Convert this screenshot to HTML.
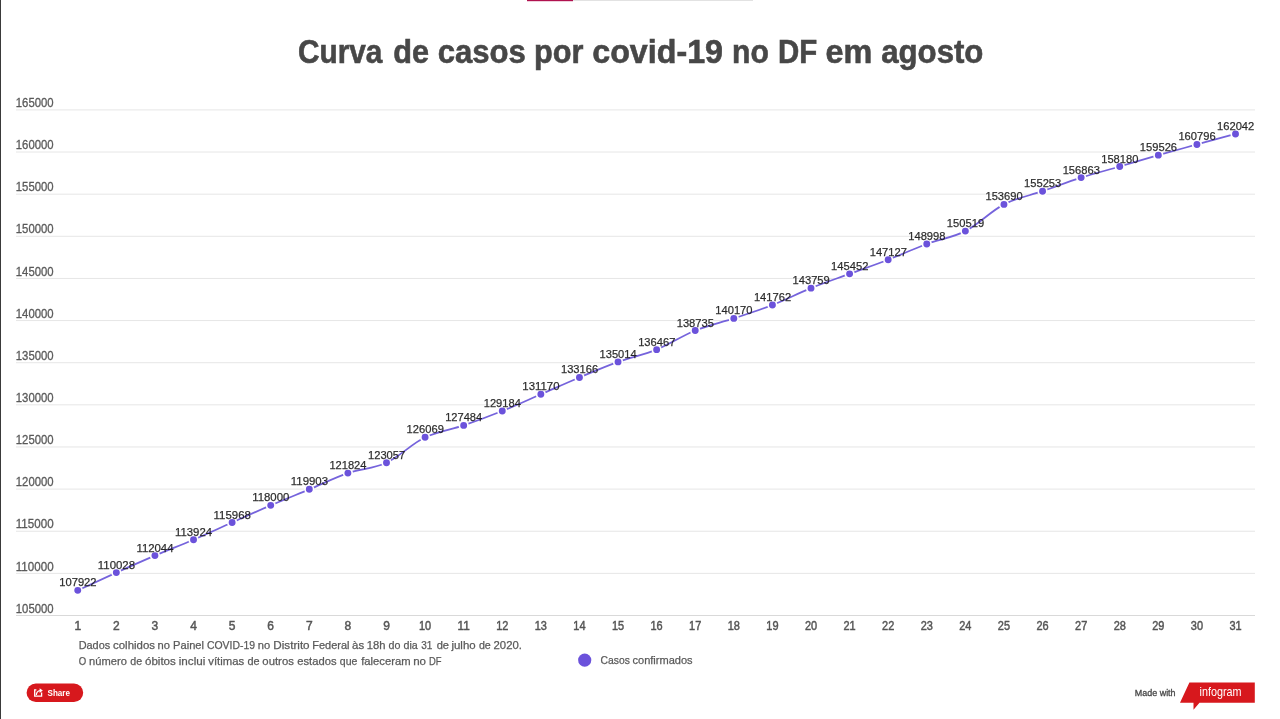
<!DOCTYPE html>
<html><head><meta charset="utf-8"><style>
html,body{margin:0;padding:0;background:#fff;width:1280px;height:719px;overflow:hidden}
svg{display:block;will-change:transform;font-family:"Liberation Sans",sans-serif}
.yl{font-size:12px;fill:#5a5a5a;stroke:#5a5a5a;stroke-width:0.3px}
.xl{font-size:12px;fill:#555;stroke:#555;stroke-width:0.45px}
.dl{font-size:11.7px;fill:#141414;stroke:#141414;stroke-width:0.25px;fill-opacity:0.88;stroke-opacity:0.88}
.ft{font-size:11px;fill:#5a5a5a;stroke:#5a5a5a;stroke-width:0.25px}
</style></head><body>
<svg width="1280" height="719" viewBox="0 0 1280 719">
<rect x="0" y="0" width="1" height="719" fill="#3a3a3a"/>
<rect x="527" y="0" width="46" height="1.2" fill="#b0124f"/>
<rect x="573" y="0" width="180" height="1" fill="#e2e2e2"/>
<g font-size="33" font-weight="bold" fill="#474747" stroke="#474747" stroke-width="0.6"><text x="297.98" y="63.1" textLength="84.43" lengthAdjust="spacingAndGlyphs">Curva</text><text x="393.24" y="63.1" textLength="35.81" lengthAdjust="spacingAndGlyphs">de</text><text x="437.79" y="63.1" textLength="88.09" lengthAdjust="spacingAndGlyphs">casos</text><text x="534.08" y="63.1" textLength="49.38" lengthAdjust="spacingAndGlyphs">por</text><text x="592.24" y="63.1" textLength="130.75" lengthAdjust="spacingAndGlyphs">covid-19</text><text x="732.02" y="63.1" textLength="36.76" lengthAdjust="spacingAndGlyphs">no</text><text x="777.93" y="63.1" textLength="39.25" lengthAdjust="spacingAndGlyphs">DF</text><text x="825.54" y="63.1" textLength="46.77" lengthAdjust="spacingAndGlyphs">em</text><text x="881.19" y="63.1" textLength="102.23" lengthAdjust="spacingAndGlyphs">agosto</text></g>
<rect x="16" y="109.40" width="1239" height="1" fill="#e6e6e6"/>
<text x="15.79" y="107.0" class="yl" textLength="37.81" lengthAdjust="spacingAndGlyphs">165000</text>
<rect x="16" y="151.53" width="1239" height="1" fill="#e6e6e6"/>
<text x="15.79" y="149.1" class="yl" textLength="37.81" lengthAdjust="spacingAndGlyphs">160000</text>
<rect x="16" y="193.67" width="1239" height="1" fill="#e6e6e6"/>
<text x="15.79" y="191.3" class="yl" textLength="37.81" lengthAdjust="spacingAndGlyphs">155000</text>
<rect x="16" y="235.80" width="1239" height="1" fill="#e6e6e6"/>
<text x="15.79" y="233.4" class="yl" textLength="37.81" lengthAdjust="spacingAndGlyphs">150000</text>
<rect x="16" y="277.93" width="1239" height="1" fill="#e6e6e6"/>
<text x="15.79" y="275.5" class="yl" textLength="37.81" lengthAdjust="spacingAndGlyphs">145000</text>
<rect x="16" y="320.07" width="1239" height="1" fill="#e6e6e6"/>
<text x="15.79" y="317.7" class="yl" textLength="37.81" lengthAdjust="spacingAndGlyphs">140000</text>
<rect x="16" y="362.20" width="1239" height="1" fill="#e6e6e6"/>
<text x="15.79" y="359.8" class="yl" textLength="37.81" lengthAdjust="spacingAndGlyphs">135000</text>
<rect x="16" y="404.33" width="1239" height="1" fill="#e6e6e6"/>
<text x="15.79" y="401.9" class="yl" textLength="37.81" lengthAdjust="spacingAndGlyphs">130000</text>
<rect x="16" y="446.46" width="1239" height="1" fill="#e6e6e6"/>
<text x="15.79" y="444.1" class="yl" textLength="37.81" lengthAdjust="spacingAndGlyphs">125000</text>
<rect x="16" y="488.60" width="1239" height="1" fill="#e6e6e6"/>
<text x="15.79" y="486.2" class="yl" textLength="37.81" lengthAdjust="spacingAndGlyphs">120000</text>
<rect x="16" y="530.73" width="1239" height="1" fill="#e6e6e6"/>
<text x="15.79" y="528.3" class="yl" textLength="37.81" lengthAdjust="spacingAndGlyphs">115000</text>
<rect x="16" y="572.86" width="1239" height="1" fill="#e6e6e6"/>
<text x="15.79" y="570.5" class="yl" textLength="37.81" lengthAdjust="spacingAndGlyphs">110000</text>
<rect x="16" y="615.00" width="1239" height="1" fill="#d9d9d9"/>
<text x="15.79" y="612.6" class="yl" textLength="37.81" lengthAdjust="spacingAndGlyphs">105000</text>
<text x="77.75" y="629.9" class="xl" text-anchor="middle">1</text>
<text x="116.34" y="629.9" class="xl" text-anchor="middle">2</text>
<text x="154.93" y="629.9" class="xl" text-anchor="middle">3</text>
<text x="193.53" y="629.9" class="xl" text-anchor="middle">4</text>
<text x="232.12" y="629.9" class="xl" text-anchor="middle">5</text>
<text x="270.71" y="629.9" class="xl" text-anchor="middle">6</text>
<text x="309.30" y="629.9" class="xl" text-anchor="middle">7</text>
<text x="347.89" y="629.9" class="xl" text-anchor="middle">8</text>
<text x="386.49" y="629.9" class="xl" text-anchor="middle">9</text>
<text x="425.08" y="629.9" class="xl" text-anchor="middle" textLength="12.2" lengthAdjust="spacingAndGlyphs">10</text>
<text x="463.67" y="629.9" class="xl" text-anchor="middle" textLength="12.2" lengthAdjust="spacingAndGlyphs">11</text>
<text x="502.26" y="629.9" class="xl" text-anchor="middle" textLength="12.2" lengthAdjust="spacingAndGlyphs">12</text>
<text x="540.85" y="629.9" class="xl" text-anchor="middle" textLength="12.2" lengthAdjust="spacingAndGlyphs">13</text>
<text x="579.45" y="629.9" class="xl" text-anchor="middle" textLength="12.2" lengthAdjust="spacingAndGlyphs">14</text>
<text x="618.04" y="629.9" class="xl" text-anchor="middle" textLength="12.2" lengthAdjust="spacingAndGlyphs">15</text>
<text x="656.63" y="629.9" class="xl" text-anchor="middle" textLength="12.2" lengthAdjust="spacingAndGlyphs">16</text>
<text x="695.22" y="629.9" class="xl" text-anchor="middle" textLength="12.2" lengthAdjust="spacingAndGlyphs">17</text>
<text x="733.81" y="629.9" class="xl" text-anchor="middle" textLength="12.2" lengthAdjust="spacingAndGlyphs">18</text>
<text x="772.41" y="629.9" class="xl" text-anchor="middle" textLength="12.2" lengthAdjust="spacingAndGlyphs">19</text>
<text x="811.00" y="629.9" class="xl" text-anchor="middle" textLength="12.2" lengthAdjust="spacingAndGlyphs">20</text>
<text x="849.59" y="629.9" class="xl" text-anchor="middle" textLength="12.2" lengthAdjust="spacingAndGlyphs">21</text>
<text x="888.18" y="629.9" class="xl" text-anchor="middle" textLength="12.2" lengthAdjust="spacingAndGlyphs">22</text>
<text x="926.77" y="629.9" class="xl" text-anchor="middle" textLength="12.2" lengthAdjust="spacingAndGlyphs">23</text>
<text x="965.37" y="629.9" class="xl" text-anchor="middle" textLength="12.2" lengthAdjust="spacingAndGlyphs">24</text>
<text x="1003.96" y="629.9" class="xl" text-anchor="middle" textLength="12.2" lengthAdjust="spacingAndGlyphs">25</text>
<text x="1042.55" y="629.9" class="xl" text-anchor="middle" textLength="12.2" lengthAdjust="spacingAndGlyphs">26</text>
<text x="1081.14" y="629.9" class="xl" text-anchor="middle" textLength="12.2" lengthAdjust="spacingAndGlyphs">27</text>
<text x="1119.73" y="629.9" class="xl" text-anchor="middle" textLength="12.2" lengthAdjust="spacingAndGlyphs">28</text>
<text x="1158.33" y="629.9" class="xl" text-anchor="middle" textLength="12.2" lengthAdjust="spacingAndGlyphs">29</text>
<text x="1196.92" y="629.9" class="xl" text-anchor="middle" textLength="12.2" lengthAdjust="spacingAndGlyphs">30</text>
<text x="1235.51" y="629.9" class="xl" text-anchor="middle" textLength="12.2" lengthAdjust="spacingAndGlyphs">31</text>
<path d="M77.75,590.36C90.61,584.37 103.48,578.39 116.34,572.60C129.21,566.80 142.07,561.07 154.93,555.60C167.80,550.12 180.66,545.26 193.53,539.74C206.39,534.23 219.25,528.23 232.12,522.50C244.98,516.77 257.85,510.90 270.71,505.37C283.57,499.84 296.44,494.69 309.30,489.32C322.17,483.94 335.03,477.55 347.89,473.12C360.76,468.68 373.62,468.69 386.49,462.72C399.35,456.75 412.21,443.54 425.08,437.32C437.94,431.10 450.81,429.76 463.67,425.38C476.53,421.01 489.40,416.23 502.26,411.05C515.13,405.87 527.99,399.90 540.85,394.30C553.72,388.70 566.58,382.87 579.45,377.47C592.31,372.06 605.17,366.52 618.04,361.88C630.90,357.24 643.77,354.86 656.63,349.63C669.49,344.40 682.36,335.71 695.22,330.50C708.09,325.30 720.95,322.65 733.81,318.40C746.68,314.15 759.54,310.02 772.41,304.97C785.27,299.93 798.13,293.32 811.00,288.13C823.86,282.95 836.73,278.59 849.59,273.85C862.45,269.12 875.32,264.71 888.18,259.73C901.05,254.74 913.91,248.72 926.77,243.95C939.64,239.18 952.50,237.72 965.37,231.12C978.23,224.53 991.09,211.03 1003.96,204.38C1016.82,197.73 1029.69,195.66 1042.55,191.20C1055.41,186.74 1068.28,181.74 1081.14,177.62C1094.01,173.51 1106.87,170.26 1119.73,166.52C1132.60,162.77 1145.46,158.84 1158.33,155.16C1171.19,151.49 1184.05,147.99 1196.92,144.45C1209.78,140.92 1222.65,137.43 1235.51,133.95" fill="none" stroke="#6652d8" stroke-opacity="0.9" stroke-width="1.75"/>
<circle cx="77.75" cy="590.36" r="4.3" fill="#6b52db" stroke="#fff" stroke-width="1.7"/>
<circle cx="116.34" cy="572.60" r="4.3" fill="#6b52db" stroke="#fff" stroke-width="1.7"/>
<circle cx="154.93" cy="555.60" r="4.3" fill="#6b52db" stroke="#fff" stroke-width="1.7"/>
<circle cx="193.53" cy="539.74" r="4.3" fill="#6b52db" stroke="#fff" stroke-width="1.7"/>
<circle cx="232.12" cy="522.50" r="4.3" fill="#6b52db" stroke="#fff" stroke-width="1.7"/>
<circle cx="270.71" cy="505.37" r="4.3" fill="#6b52db" stroke="#fff" stroke-width="1.7"/>
<circle cx="309.30" cy="489.32" r="4.3" fill="#6b52db" stroke="#fff" stroke-width="1.7"/>
<circle cx="347.89" cy="473.12" r="4.3" fill="#6b52db" stroke="#fff" stroke-width="1.7"/>
<circle cx="386.49" cy="462.72" r="4.3" fill="#6b52db" stroke="#fff" stroke-width="1.7"/>
<circle cx="425.08" cy="437.32" r="4.3" fill="#6b52db" stroke="#fff" stroke-width="1.7"/>
<circle cx="463.67" cy="425.38" r="4.3" fill="#6b52db" stroke="#fff" stroke-width="1.7"/>
<circle cx="502.26" cy="411.05" r="4.3" fill="#6b52db" stroke="#fff" stroke-width="1.7"/>
<circle cx="540.85" cy="394.30" r="4.3" fill="#6b52db" stroke="#fff" stroke-width="1.7"/>
<circle cx="579.45" cy="377.47" r="4.3" fill="#6b52db" stroke="#fff" stroke-width="1.7"/>
<circle cx="618.04" cy="361.88" r="4.3" fill="#6b52db" stroke="#fff" stroke-width="1.7"/>
<circle cx="656.63" cy="349.63" r="4.3" fill="#6b52db" stroke="#fff" stroke-width="1.7"/>
<circle cx="695.22" cy="330.50" r="4.3" fill="#6b52db" stroke="#fff" stroke-width="1.7"/>
<circle cx="733.81" cy="318.40" r="4.3" fill="#6b52db" stroke="#fff" stroke-width="1.7"/>
<circle cx="772.41" cy="304.97" r="4.3" fill="#6b52db" stroke="#fff" stroke-width="1.7"/>
<circle cx="811.00" cy="288.13" r="4.3" fill="#6b52db" stroke="#fff" stroke-width="1.7"/>
<circle cx="849.59" cy="273.85" r="4.3" fill="#6b52db" stroke="#fff" stroke-width="1.7"/>
<circle cx="888.18" cy="259.73" r="4.3" fill="#6b52db" stroke="#fff" stroke-width="1.7"/>
<circle cx="926.77" cy="243.95" r="4.3" fill="#6b52db" stroke="#fff" stroke-width="1.7"/>
<circle cx="965.37" cy="231.12" r="4.3" fill="#6b52db" stroke="#fff" stroke-width="1.7"/>
<circle cx="1003.96" cy="204.38" r="4.3" fill="#6b52db" stroke="#fff" stroke-width="1.7"/>
<circle cx="1042.55" cy="191.20" r="4.3" fill="#6b52db" stroke="#fff" stroke-width="1.7"/>
<circle cx="1081.14" cy="177.62" r="4.3" fill="#6b52db" stroke="#fff" stroke-width="1.7"/>
<circle cx="1119.73" cy="166.52" r="4.3" fill="#6b52db" stroke="#fff" stroke-width="1.7"/>
<circle cx="1158.33" cy="155.16" r="4.3" fill="#6b52db" stroke="#fff" stroke-width="1.7"/>
<circle cx="1196.92" cy="144.45" r="4.3" fill="#6b52db" stroke="#fff" stroke-width="1.7"/>
<circle cx="1235.51" cy="133.95" r="4.3" fill="#6b52db" stroke="#fff" stroke-width="1.7"/>
<text x="59.25" y="586.36" class="dl" textLength="37.31" lengthAdjust="spacingAndGlyphs">107922</text>
<text x="97.84" y="568.60" class="dl" textLength="37.23" lengthAdjust="spacingAndGlyphs">110028</text>
<text x="136.44" y="551.60" class="dl" textLength="37.07" lengthAdjust="spacingAndGlyphs">112044</text>
<text x="175.03" y="535.74" class="dl" textLength="37.07" lengthAdjust="spacingAndGlyphs">113924</text>
<text x="213.62" y="518.50" class="dl" textLength="37.23" lengthAdjust="spacingAndGlyphs">115968</text>
<text x="252.21" y="501.37" class="dl" textLength="37.18" lengthAdjust="spacingAndGlyphs">118000</text>
<text x="290.80" y="485.32" class="dl" textLength="37.24" lengthAdjust="spacingAndGlyphs">119903</text>
<text x="329.40" y="469.12" class="dl" textLength="37.07" lengthAdjust="spacingAndGlyphs">121824</text>
<text x="367.98" y="458.72" class="dl" textLength="37.31" lengthAdjust="spacingAndGlyphs">123057</text>
<text x="406.58" y="433.32" class="dl" textLength="37.28" lengthAdjust="spacingAndGlyphs">126069</text>
<text x="445.17" y="421.38" class="dl" textLength="37.07" lengthAdjust="spacingAndGlyphs">127484</text>
<text x="483.77" y="407.05" class="dl" textLength="37.07" lengthAdjust="spacingAndGlyphs">129184</text>
<text x="522.36" y="390.30" class="dl" textLength="37.18" lengthAdjust="spacingAndGlyphs">131170</text>
<text x="560.95" y="373.47" class="dl" textLength="37.24" lengthAdjust="spacingAndGlyphs">133166</text>
<text x="599.54" y="357.88" class="dl" textLength="37.07" lengthAdjust="spacingAndGlyphs">135014</text>
<text x="638.13" y="345.63" class="dl" textLength="37.31" lengthAdjust="spacingAndGlyphs">136467</text>
<text x="676.72" y="326.50" class="dl" textLength="37.22" lengthAdjust="spacingAndGlyphs">138735</text>
<text x="715.32" y="314.40" class="dl" textLength="37.18" lengthAdjust="spacingAndGlyphs">140170</text>
<text x="753.90" y="300.97" class="dl" textLength="37.31" lengthAdjust="spacingAndGlyphs">141762</text>
<text x="792.50" y="284.13" class="dl" textLength="37.28" lengthAdjust="spacingAndGlyphs">143759</text>
<text x="831.09" y="269.85" class="dl" textLength="37.31" lengthAdjust="spacingAndGlyphs">145452</text>
<text x="869.68" y="255.73" class="dl" textLength="37.31" lengthAdjust="spacingAndGlyphs">147127</text>
<text x="908.27" y="239.95" class="dl" textLength="37.23" lengthAdjust="spacingAndGlyphs">148998</text>
<text x="946.87" y="227.12" class="dl" textLength="37.28" lengthAdjust="spacingAndGlyphs">150519</text>
<text x="985.46" y="200.38" class="dl" textLength="37.18" lengthAdjust="spacingAndGlyphs">153690</text>
<text x="1024.05" y="187.20" class="dl" textLength="37.24" lengthAdjust="spacingAndGlyphs">155253</text>
<text x="1062.64" y="173.62" class="dl" textLength="37.24" lengthAdjust="spacingAndGlyphs">156863</text>
<text x="1101.24" y="162.52" class="dl" textLength="37.18" lengthAdjust="spacingAndGlyphs">158180</text>
<text x="1139.83" y="151.16" class="dl" textLength="37.24" lengthAdjust="spacingAndGlyphs">159526</text>
<text x="1178.42" y="140.45" class="dl" textLength="37.24" lengthAdjust="spacingAndGlyphs">160796</text>
<text x="1217.01" y="129.95" class="dl" textLength="37.31" lengthAdjust="spacingAndGlyphs">162042</text>
<g class="ft"><text x="78.66" y="648.75" textLength="31.49" lengthAdjust="spacingAndGlyphs">Dados</text><text x="113.06" y="648.75" textLength="41.90" lengthAdjust="spacingAndGlyphs">colhidos</text><text x="157.61" y="648.75" textLength="12.41" lengthAdjust="spacingAndGlyphs">no</text><text x="173.14" y="648.75" textLength="30.85" lengthAdjust="spacingAndGlyphs">Painel</text><text x="206.97" y="648.75" textLength="48.07" lengthAdjust="spacingAndGlyphs">COVID-19</text><text x="257.81" y="648.75" textLength="12.41" lengthAdjust="spacingAndGlyphs">no</text><text x="273.29" y="648.75" textLength="36.35" lengthAdjust="spacingAndGlyphs">Distrito</text><text x="312.25" y="648.75" textLength="37.24" lengthAdjust="spacingAndGlyphs">Federal</text><text x="352.06" y="648.75" textLength="12.10" lengthAdjust="spacingAndGlyphs">às</text><text x="366.80" y="648.75" textLength="18.68" lengthAdjust="spacingAndGlyphs">18h</text><text x="388.50" y="648.75" textLength="11.90" lengthAdjust="spacingAndGlyphs">do</text><text x="403.50" y="648.75" textLength="14.25" lengthAdjust="spacingAndGlyphs">dia</text><text x="421.27" y="648.75" textLength="11.17" lengthAdjust="spacingAndGlyphs">31</text><text x="436.68" y="648.75" textLength="12.36" lengthAdjust="spacingAndGlyphs">de</text><text x="451.43" y="648.75" textLength="24.20" lengthAdjust="spacingAndGlyphs">julho</text><text x="478.90" y="648.75" textLength="11.93" lengthAdjust="spacingAndGlyphs">de</text><text x="493.58" y="648.75" textLength="28.30" lengthAdjust="spacingAndGlyphs">2020.</text><text x="78.85" y="664.6" textLength="7.46" lengthAdjust="spacingAndGlyphs">O</text><text x="89.11" y="664.6" textLength="37.71" lengthAdjust="spacingAndGlyphs">número</text><text x="130.25" y="664.6" textLength="11.87" lengthAdjust="spacingAndGlyphs">de</text><text x="144.96" y="664.6" textLength="30.90" lengthAdjust="spacingAndGlyphs">óbitos</text><text x="178.77" y="664.6" textLength="26.57" lengthAdjust="spacingAndGlyphs">inclui</text><text x="208.31" y="664.6" textLength="35.85" lengthAdjust="spacingAndGlyphs">vítimas</text><text x="247.39" y="664.6" textLength="12.14" lengthAdjust="spacingAndGlyphs">de</text><text x="262.37" y="664.6" textLength="31.49" lengthAdjust="spacingAndGlyphs">outros</text><text x="297.27" y="664.6" textLength="39.28" lengthAdjust="spacingAndGlyphs">estados</text><text x="339.81" y="664.6" textLength="17.51" lengthAdjust="spacingAndGlyphs">que</text><text x="361.19" y="664.6" textLength="49.40" lengthAdjust="spacingAndGlyphs">faleceram</text><text x="413.18" y="664.6" textLength="12.85" lengthAdjust="spacingAndGlyphs">no</text><text x="428.88" y="664.6" textLength="12.55" lengthAdjust="spacingAndGlyphs">DF</text></g>
<circle cx="584.7" cy="660.1" r="6.6" fill="#6b52db"/>
<g class="ft" style="font-size:11.3px"><text x="600.52" y="663.7" textLength="29.35" lengthAdjust="spacingAndGlyphs">Casos</text><text x="632.48" y="663.7" textLength="60.17" lengthAdjust="spacingAndGlyphs">confirmados</text></g>
<rect x="26.6" y="683.6" width="56.6" height="18.4" rx="9.2" fill="#d7181d"/>
<text x="47.5" y="696" font-size="9" font-weight="bold" fill="#fff" textLength="22.5" lengthAdjust="spacingAndGlyphs">Share</text>
<g fill="none" stroke="#fff" stroke-width="1.3">
<path d="M36.4,689.9 H34.7 V696.2 H41.6 V692.6"/>
<path d="M36.3,695 C36.5,692.3 37.8,690.9 40.2,690.7"/>
</g>
<path d="M39.6,688.2 L42.8,690.6 L39.6,693 Z" fill="#fff"/>
<text x="1134.8" y="695.6" font-size="9" fill="#484848" stroke="#484848" stroke-width="0.3" textLength="40.8" lengthAdjust="spacingAndGlyphs">Made with</text>
<path d="M1189.4,682.5 L1254.8,682.5 L1254.8,702.8 L1199.5,702.8 L1193.5,709.8 L1193.5,702.8 L1180,702.8 Z" fill="#d7181d"/>
<text x="1199.6" y="695.9" font-size="13.6" fill="#fff" textLength="42" lengthAdjust="spacingAndGlyphs">infogram</text>
</svg>
</body></html>
